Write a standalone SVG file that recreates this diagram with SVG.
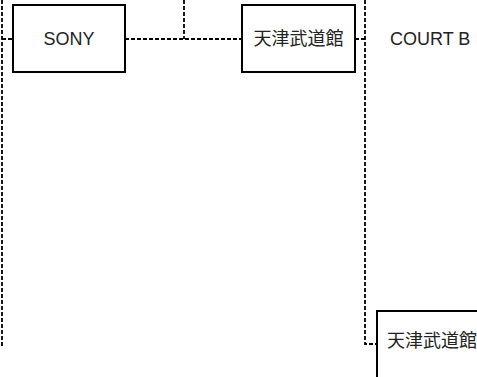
<svg xmlns="http://www.w3.org/2000/svg" width="477" height="377" viewBox="0 0 477 377">
<style>
.box{fill:#fff;stroke:#000;stroke-width:2}
.lbl{font-family:"Liberation Sans","Noto Sans CJK JP",Arial,sans-serif;font-size:18px;fill:#222}
.c{fill:none;stroke:#000;stroke-width:1.8;stroke-dasharray:4,2}
</style>
<rect width="477" height="377" fill="#fff"/>
<g id="connectors">
<path class="c" d="M2,0 V345 H0"/>
<path class="c" d="M2,39 H13"/>
<path class="c" d="M125,39 H242"/>
<path class="c" d="M184,0 V39"/>
<path class="c" d="M355,39 H365"/>
<path class="c" d="M365,0 V344 H377"/>
</g>
<g id="sony">
<rect class="box" x="13" y="5" width="112" height="67"/>
<text class="lbl" x="69" y="45" text-anchor="middle">SONY</text>
</g>
<g id="tianjin1">
<rect class="box" x="242" y="5" width="113" height="67"/>
<text class="lbl" x="298.5" y="45" text-anchor="middle">天津武道館</text>
</g>
<g id="courtb">
<text class="lbl" x="390" y="45">COURT B</text>
</g>
<g id="tianjin2">
<rect class="box" x="377" y="311" width="113" height="67"/>
<text class="lbl" x="387" y="347">天津武道館</text>
</g>
</svg>
